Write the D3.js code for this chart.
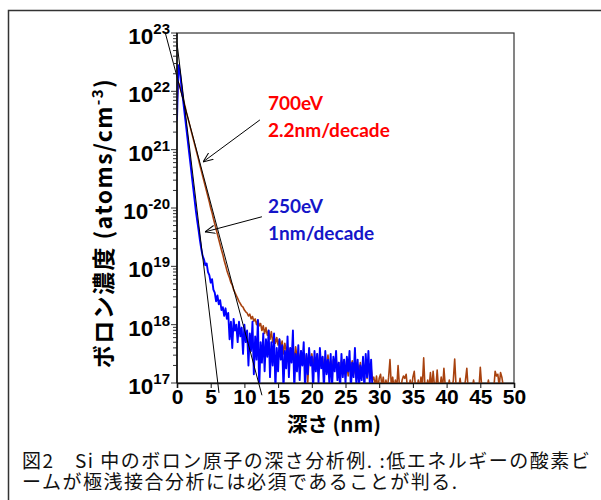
<!DOCTYPE html>
<html>
<head>
<meta charset="utf-8">
<script src="https://cdn.jsdelivr.net/npm/d3@7"></script>
<style>
  body { margin: 0; background: #fff; }
  svg { display: block; }
</style>
</head>
<body>
<div id="chart"></div>
<script>
// Depth profiles, log10 of concentration (atoms/cm3), one value every 0.2 nm from the surface
const depthStep = 0.2;

const conc250eV = [
  21.5, 22.45, 22.35, 22.15, 21.95, 21.75, 21.55, 21.35, 21.15, 20.95,
  20.75, 20.55, 20.35, 20.15, 19.95, 19.78, 19.62, 19.45, 19.3, 19.18,
  19.12, 19.02, 19.05, 18.9, 18.85, 18.72, 18.78, 18.6, 18.55, 18.4,
  18.5, 18.35, 18.42, 18.25, 18.3, 18.15, 18.28, 18.1, 18.2, 17.75,
  18.05, 17.6, 18.1, 17.9, 18.0, 17.7, 18.05, 17.8, 17.95, 17.5,
  18.0, 17.7, 17.9, 17.3, 17.85, 17.55, 18.05, 17.15, 17.8, 17.4,
  18.08, 16.9, 17.7, 17.35, 17.85, 17.2, 17.75, 17.45, 17.9, 17.1,
  17.7, 17.3, 17.85, 16.9, 17.6, 17.2, 17.75, 17.4, 17.65, 16.9,
  17.55, 17.25, 17.8, 17.1, 17.6, 17.35, 17.9, 16.9, 17.5, 17.2,
  17.65, 17.05, 17.55, 17.3, 17.7, 16.9, 17.5, 17.15, 17.6, 17.3,
  17.45, 16.9, 17.55, 17.2, 17.5, 17.0, 17.6, 17.25, 17.45, 16.9,
  17.55, 17.15, 17.4, 17.0, 17.5, 16.9, 17.45, 17.2, 17.55, 17.05,
  17.35, 16.9, 17.5, 17.1, 17.4, 17.0, 17.45, 17.2, 17.55, 16.9,
  17.35, 17.1, 17.6, 17.0, 17.4, 16.9, 17.3, 17.05, 17.45, 16.9,
  17.5, 17.1, 17.55, 17.0, 17.4, 16.9
];

const conc700eV = [
  21.8, 22.15, 22.1, 22.01, 21.92, 21.83, 21.74, 21.64, 21.55, 21.46,
  21.37, 21.28, 21.19, 21.1, 21.01, 20.92, 20.83, 20.73, 20.64, 20.55,
  20.46, 20.37, 20.28, 20.19, 20.1, 20.0, 19.92, 19.82, 19.73, 19.64,
  19.55, 19.46, 19.37, 19.28, 19.2, 19.1, 19.02, 18.93, 18.86, 18.8,
  18.72, 18.68, 18.6, 18.55, 18.5, 18.45, 18.4, 18.36, 18.32, 18.3,
  18.25, 18.22, 18.2, 18.15, 18.18, 18.1, 18.14, 18.06, 18.1, 18.0,
  18.08, 17.98, 18.02, 17.9, 17.98, 17.85, 17.95, 17.82, 17.9, 17.75,
  17.88, 17.7, 17.82, 17.68, 17.78, 17.65, 17.75, 17.6, 17.72, 17.5,
  17.68, 17.55, 17.62, 17.45, 17.6, 17.5, 17.58, 17.4, 17.62, 17.45,
  17.52, 17.35, 17.55, 17.42, 17.5, 17.3, 17.48, 17.0, 17.45, 17.38,
  17.5, 17.3, 17.45, 17.35, 17.5, 17.25, 17.42, 17.3, 17.45, 17.2,
  17.4, 17.3, 17.48, 17.25, 17.38, 17.15, 17.4, 17.3, 17.42, 17.2,
  17.35, 17.1, 17.38, 17.28, 17.4, 17.2, 17.32, 17.12, 17.35, 17.25,
  17.38, 17.15, 17.3, 17.05, 17.32, 17.2, 17.35, 17.1, 17.28, 17.18,
  17.34, 17.08, 17.3, 17.15, 17.25, 17.05,
  17.1, 16.95, 17.12, 16.9, 17.08, 17.15, 16.95, 17.1, 16.9, 17.05,
  16.9, 17.1, 17.4, 16.95, 17.1, 16.9, 17.05, 16.9, 17.3, 16.95,
  16.9, 17.05, 17.12, 17.08, 17.15, 16.9, 16.9, 17.05, 16.9, 17.1,
  17.2, 16.9, 16.9, 17.05, 16.9, 17.1, 16.95, 17.43, 16.9, 16.9,
  17.05, 16.9, 17.18, 16.9, 17.2, 16.95, 16.9, 17.22, 16.9, 16.9,
  17.1, 16.9, 17.25, 16.95, 16.9, 16.9, 17.05, 16.9, 16.9, 17.05,
  17.41, 16.95, 16.9, 16.9, 17.08, 16.9, 16.9, 16.9, 17.05, 17.25,
  16.9, 16.9, 16.9, 16.9, 17.05, 16.9, 16.9, 16.9, 16.9, 17.27,
  16.95, 16.9, 16.9, 16.9, 16.9, 17.05, 16.9, 16.9, 16.9, 16.9,
  17.2, 17.12, 17.15, 16.95, 17.18, 17.1, 16.95
];

// Decay fit lines [depth nm, log10 conc]
const fit1nm = [[0, 22.83], [6.23, 16.83]];
const fit22nm = [[-1.78, 23.02], [12.6, 16.79]];

// Annotations: text anchor [depth, log10] and arrow [from, to]
const labels700 = ["700eV", "2.2nm/decade"];
const labels250 = ["250eV", "1nm/decade"];
const labelPos700 = [[13.5, 21.68], [13.5, 21.22]];
const labelPos250 = [[13.5, 19.92], [13.5, 19.45]];
const arrow700 = [[12.3, 21.51], [3.86, 20.79]];
const arrow250 = [[12.6, 19.85], [4.15, 19.59]];

// Axis ticks
const xTicks = [0, 5, 10, 15, 20, 25, 30, 35, 40, 45, 50];
const yTickExp = [23, 22, 21, 20, 19, 18, 17];
const yTickSup = ["23", "22", "21", "-20", "19", "18", "17"];

const captionLines = [
  "図2　Si 中のボロン原子の深さ分析例. :低エネルギーの酸素ビ",
  "ームが極浅接合分析には必須であることが判る."
];

// Dimensions
let dimensions = {
  width: 601,
  height: 500,
  margin: {top: 33, right: 87, bottom: 117, left: 177},
}
dimensions.boundedWidth = dimensions.width - dimensions.margin.left - dimensions.margin.right
dimensions.boundedHeight = dimensions.height - dimensions.margin.top - dimensions.margin.bottom

// Scales
const xScale = d3.scaleLinear()
  .domain([0, 50])
  .range([0, dimensions.boundedWidth]);

const yScale = d3.scaleLog()
  .domain([1e17, 1e23])
  .range([dimensions.boundedHeight, 0]);

const px = p => xScale(p[0]);
const py = p => yScale(Math.pow(10, p[1]));

const jpFont = "'Noto Sans CJK JP', 'Noto Sans', sans-serif";
const numFont = "'Liberation Sans', Arial, sans-serif";
const noteFont = "Lato, 'Open Sans', sans-serif";

function drawChart() {
  const svg = d3.select("#chart")
    .append("svg")
      .attr("width", dimensions.width)
      .attr("height", dimensions.height)

  // outer frame (open to the right and bottom)
  svg.append("path")
    .attr("d", "M8.5,500 V10.5 H601")
    .attr("fill", "none")
    .attr("stroke", "#333")
    .attr("stroke-width", 1.5)

  svg.append("defs").append("clipPath")
      .attr("id", "plot-clip")
    .append("rect")
      .attr("width", dimensions.boundedWidth)
      .attr("height", dimensions.boundedHeight)

  svg.select("defs").append("marker")
      .attr("id", "arrow")
      .attr("viewBox", "0 0 10 10")
      .attr("refX", 10)
      .attr("refY", 5)
      .attr("markerWidth", 10)
      .attr("markerHeight", 10)
      .attr("markerUnits", "userSpaceOnUse")
      .attr("orient", "auto")
    .append("path")
      .attr("d", "M0,1 L10,5 L0,9")
      .attr("fill", "none")
      .attr("stroke", "#000")
      .attr("stroke-width", 1)

  const bounds = svg.append("g")
    .attr("transform", `translate(${dimensions.margin.left}, ${dimensions.margin.top})`)

  // plot box
  bounds.append("rect")
    .attr("width", dimensions.boundedWidth)
    .attr("height", dimensions.boundedHeight)
    .attr("fill", "none")
    .attr("stroke", "#333")
    .attr("stroke-width", 1.2)

  // Data curves
  const line = d3.line()
    .x((d, i) => xScale(i * depthStep))
    .y(d => yScale(Math.pow(10, d)));

  const curves = bounds.append("g")
    .attr("clip-path", "url(#plot-clip)")

  curves.append("path")
    .datum(conc700eV)
    .attr("d", line)
    .attr("fill", "none")
    .attr("stroke", "#A8420F")
    .attr("stroke-width", 1.6)
    .attr("stroke-linejoin", "round")

  curves.append("path")
    .datum(conc250eV)
    .attr("d", line)
    .attr("fill", "none")
    .attr("stroke", "#0000FF")
    .attr("stroke-width", 1.9)
    .attr("stroke-linejoin", "round")

  // Fit lines (not clipped)
  const fitLine = d3.line().x(px).y(py);
  [fit1nm, fit22nm].forEach(f => {
    bounds.append("path")
      .attr("d", fitLine(f))
      .attr("fill", "none")
      .attr("stroke", "#000")
      .attr("stroke-width", 1)
  })

  // Axes
  const xAxis = bounds.append("g")
    .attr("transform", `translate(0, ${dimensions.boundedHeight})`)
    .call(d3.axisBottom(xScale)
      .tickValues(xTicks)
      .tickSize(5)
      .tickPadding(1)
      .tickFormat(d3.format("d")))
  xAxis.select(".domain").attr("stroke", "#111").attr("stroke-width", 1.6)
  xAxis.selectAll(".tick line").attr("stroke", "#111").attr("stroke-width", 1)
  xAxis.selectAll(".tick text")
    .attr("font-family", numFont)
    .attr("font-size", 21)
    .attr("font-weight", "bold")
    .attr("fill", "#000")

  const yAxis = bounds.append("g")
  // minor ticks
  const minor = yScale.ticks().filter(v => {
    const m = v / Math.pow(10, Math.floor(Math.log10(v) + 1e-9));
    return Math.round(m) !== 1;
  });
  yAxis.selectAll(".minor")
    .data(minor)
    .join("line")
      .attr("class", "minor")
      .attr("x1", -4)
      .attr("x2", 0)
      .attr("y1", d => yScale(d))
      .attr("y2", d => yScale(d))
      .attr("stroke", "#333")
      .attr("stroke-width", 1)
  yAxis.selectAll(".major")
    .data(yTickExp)
    .join("line")
      .attr("class", "major")
      .attr("x1", -6)
      .attr("x2", 0)
      .attr("y1", d => yScale(Math.pow(10, d)))
      .attr("y2", d => yScale(Math.pow(10, d)))
      .attr("stroke", "#333")
      .attr("stroke-width", 1)
  yAxis.append("line")
    .attr("y1", 0)
    .attr("y2", dimensions.boundedHeight)
    .attr("stroke", "#111")
    .attr("stroke-width", 1.6)

  const yLabels = yAxis.selectAll(".ylab")
    .data(yTickExp)
    .join("text")
      .attr("class", "ylab")
      .attr("x", -7)
      .attr("y", d => yScale(Math.pow(10, d)) + 11)
      .attr("text-anchor", "end")
      .attr("font-family", numFont)
      .attr("font-weight", "bold")
      .attr("font-size", 22.5)
  yLabels.append("tspan").text("10")
  yLabels.append("tspan")
    .attr("font-size", 15)
    .attr("dy", -10)
    .text((d, i) => yTickSup[i])

  // Axis titles
  svg.append("text")
    .attr("x", 334)
    .attr("y", 432)
    .attr("text-anchor", "middle")
    .attr("font-family", jpFont)
    .attr("font-weight", "bold")
    .attr("font-size", 20.5)
    .text("深さ (nm)")

  const yTitle = svg.append("text")
    .attr("transform", "translate(112, 223) rotate(-90)")
    .attr("text-anchor", "middle")
    .attr("font-family", jpFont)
    .attr("font-weight", "bold")
    .attr("font-size", 23)
    .attr("letter-spacing", 1.4)
  yTitle.append("tspan").text("ボロン濃度 (atoms/cm")
  yTitle.append("tspan").attr("font-size", 15).attr("dy", -9).text("-3")
  yTitle.append("tspan").attr("dy", 9).text(")")

  // Annotations
  const notes = bounds.append("g")
    .attr("font-family", noteFont)
    .attr("font-weight", "bold")
    .attr("font-size", 19)
  labels700.forEach((t, i) => {
    notes.append("text")
      .attr("x", px(labelPos700[i]))
      .attr("y", py(labelPos700[i]))
      .attr("fill", "#FF0000")
      .text(t)
  })
  labels250.forEach((t, i) => {
    notes.append("text")
      .attr("x", px(labelPos250[i]))
      .attr("y", py(labelPos250[i]))
      .attr("fill", "#1515C8")
      .text(t)
  })
  ;[arrow700, arrow250].forEach(a => {
    bounds.append("line")
      .attr("x1", px(a[0]))
      .attr("y1", py(a[0]))
      .attr("x2", px(a[1]))
      .attr("y2", py(a[1]))
      .attr("stroke", "#000")
      .attr("stroke-width", 1)
      .attr("marker-end", "url(#arrow)")
  })

  // Caption, two lines in one text block
  svg.append("text")
      .attr("font-family", jpFont)
      .attr("font-size", 19)
      .attr("letter-spacing", 1.5)
      .attr("fill", "#111")
    .selectAll("tspan")
    .data(captionLines)
    .join("tspan")
      .attr("x", 22)
      .attr("y", (d, i) => 468 + i * 21)
      .text(d => d)
}

drawChart();
</script>
</body>
</html>
